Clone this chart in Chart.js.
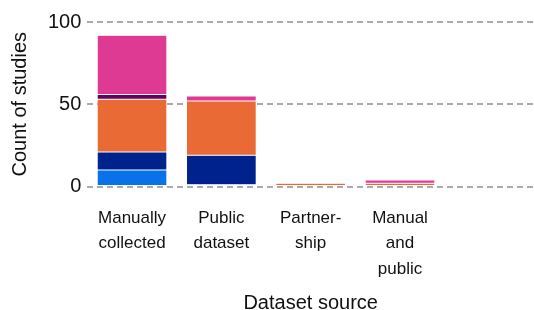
<!DOCTYPE html>
<html>
<head>
<meta charset="utf-8">
<script src="https://cdn.jsdelivr.net/npm/chart.js@4"></script>
<style>
  html, body { margin: 0; padding: 0; background: #fff; }
  #wrap { width: 534px; height: 310px; }
</style>
</head>
<body>
<div id="wrap"><canvas id="sourceChart"></canvas></div>
<script>
// Dataset source categories (x axis)
const categories = [
    ['Manually', 'collected'],
    ['Public', 'dataset'],
    ['Partner-', 'ship'],
    ['Manual', 'and', 'public']
];

// Stacked segments, bottom to top (count of studies)
const lightBlue = [10, 1, 0, 0];
const darkBlue  = [11, 18, 0, 0];
const orange    = [32, 33, 2, 2];
const purple    = [3, 0, 0, 0];
const pink      = [36, 3, 0, 2];

const yTicks = [0, 50, 100];

const font = 'Liberation Sans, Arial, sans-serif';

function toPoints(values) {
    return values.map((v, i) => ({ x: i, y: v }));
}

function series(values, color) {
    return {
        data: toPoints(values),
        backgroundColor: color,
        borderColor: 'rgba(255, 255, 255, 0.2)',
        borderWidth: 0.5,
        borderSkipped: false
    };
}

const ctx = document.getElementById('sourceChart').getContext('2d');

new Chart(ctx, {
    type: 'bar',
    data: {
        datasets: [
            series(lightBlue, '#0873e8'),
            series(darkBlue, '#00228d'),
            series(orange, '#e96a34'),
            series(purple, '#650062'),
            series(pink, '#df3a93')
        ]
    },
    options: {
        responsive: true,
        maintainAspectRatio: false,
        animation: false,
        categoryPercentage: 1,
        barPercentage: 0.78,
        layout: {
            padding: { top: 22, left: 4, right: 0, bottom: 0 }
        },
        plugins: {
            legend: { display: false },
            tooltip: { enabled: false }
        },
        scales: {
            x: {
                type: 'linear',
                stacked: true,
                offset: false,
                min: -0.5,
                max: categories.length + 0.5, // empty slot on the right
                afterBuildTicks: (scale) => {
                    scale.ticks = categories.map((c, i) => ({ value: i }));
                },
                grid: { display: false },
                border: { display: false },
                ticks: {
                    autoSkip: false,
                    maxRotation: 0,
                    padding: 11,
                    color: '#111',
                    font: { family: font, size: 17, lineHeight: 1.5 },
                    callback: (v) => categories[v] || ''
                },
                title: {
                    display: true,
                    text: 'Dataset source',
                    color: '#111',
                    font: { family: font, size: 20, lineHeight: 1 },
                    padding: { top: 0, bottom: -3 }
                }
            },
            y: {
                stacked: true,
                min: 0,
                max: 100,
                afterBuildTicks: (scale) => {
                    scale.ticks = yTicks.map(v => ({ value: v }));
                },
                grid: {
                    color: '#aaaaaa',
                    lineWidth: 2,
                    drawTicks: false
                },
                border: { display: false, dash: [6, 4] },
                ticks: {
                    padding: 6,
                    color: '#111',
                    font: { family: font, size: 20 }
                },
                title: {
                    display: true,
                    text: 'Count of studies',
                    color: '#111',
                    font: { family: font, size: 20 },
                    padding: { top: 4, bottom: 10 }
                }
            }
        }
    }
});
</script>
</body>
</html>
